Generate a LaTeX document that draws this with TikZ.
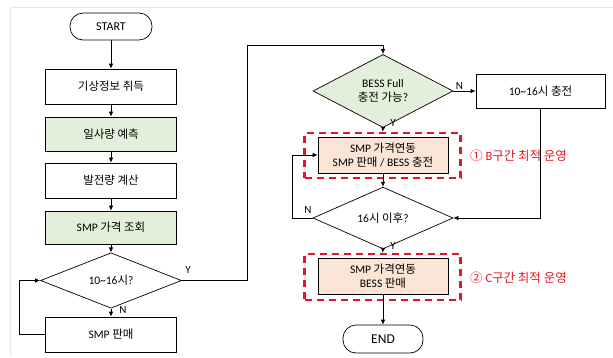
\documentclass[tikz,border=0pt]{standalone}
\usepackage{fontspec}
\setmainfont{Carlito}
\newfontfamily\kr{Noto Sans CJK KR}
\usetikzlibrary{shapes.geometric,arrows.meta}
\definecolor{boxgreen}{RGB}{226,239,218}
\definecolor{boxpeach}{RGB}{251,229,214}
\definecolor{dashred}{RGB}{230,20,30}
\definecolor{framegray}{RGB}{232,232,232}
\tikzset{
  txt/.style={font=\fontsize{11.5}{14}\selectfont},
  pbox/.style={draw, line width=0.7pt, minimum width=131pt, minimum height=35pt, inner sep=0pt, align=center, txt},
  gbox/.style={pbox, fill=boxgreen},
  obox/.style={pbox, fill=boxpeach, minimum width=130pt, minimum height=36pt},
  term/.style={draw, line width=0.7pt, rounded corners=13pt, inner sep=0pt, align=center},
  dec/.style={draw, diamond, line width=0.7pt, minimum width=140pt, minimum height=47pt, inner sep=0pt, align=center, txt},
  zone/.style={draw=dashred, line width=2.4pt, dash pattern=on 7pt off 5pt, minimum width=156pt, minimum height=45pt, inner sep=0pt},
  conn/.style={line width=0.7pt, -{Latex[length=5pt,width=4.5pt]}},
  plain/.style={line width=0.7pt},
  lbl/.style={font=\fontsize{11}{12}\selectfont, inner sep=0pt},
  redlbl/.style={font=\fontsize{12.5}{14}\selectfont, text=dashred, inner sep=0pt, anchor=west}
}
\begin{document}
\begin{tikzpicture}[x=1pt, y=-1pt]
\useasboundingbox (0,0) rectangle (613,357);
\draw[framegray, line width=0.8pt] (10,357) -- (10,7) -- (613,7);

% left column
\node[term, minimum width=82pt, minimum height=27pt, font=\fontsize{12}{14}\selectfont] (start) at (111,26.5) {START};
\node[pbox] (b1) at (111,86.5) {\kr 기상정보 취득};
\node[gbox, minimum height=34pt] (b2) at (111,134) {\kr 일사량 예측};
\node[pbox] (b3) at (111,180.5) {\kr 발전량 계산};
\node[gbox, minimum height=33pt] (b4) at (111,227.5) {SMP {\kr 가격 조회}};
\node[dec, minimum width=141pt] (d1) at (111,280.5) {10\textasciitilde16{\kr 시}?};
\node[pbox] (b5) at (111,334.5) {SMP {\kr 판매}};

\coordinate (l1) at (19,334.5);
\coordinate (l2) at (19,280.5);
\coordinate (u1) at (247,280.5);
\coordinate (u2) at (247,45);
\coordinate (u3) at (383,45);

% right column
\node[dec, fill=boxgreen, minimum height=48pt] (d2) at (383,91) {BESS Full\\{\kr 충전 가능}?};
\node[pbox, minimum width=129pt, minimum height=34pt] (c1) at (540.5,91) {10\textasciitilde16{\kr 시 충전}};
\node[zone] (z1) at (382.5,155.5) {};
\node[obox] (p1) at (383,155) {SMP {\kr 가격연동}\\SMP {\kr 판매} / BESS {\kr 충전}};
\node[redlbl] (t1) at (470,155.5) {{\kr ①} B{\kr 구간 최적 운영}};
\node[dec, minimum height=48pt] (d3) at (383,218) {16{\kr 시 이후}?};
\node[zone, minimum height=46pt] (z2) at (382.5,277) {};
\node[obox] (p2) at (383,276) {SMP {\kr 가격연동}\\BESS {\kr 판매}};
\node[redlbl] (t2) at (470,277.5) {{\kr ②} C{\kr 구간 최적 운영}};
\node[term, minimum width=80pt, minimum height=28pt, font=\fontsize{13.5}{15}\selectfont] (end) at (383,339) {END};

\coordinate (r1) at (540.5,218);
\coordinate (n1) at (292,218);
\coordinate (n2) at (292,155);

% connectors left
\draw[conn] (start) -- (b1);
\draw[conn] (b1) -- (b2);
\draw[conn] (b2) -- (b3);
\draw[conn] (b3) -- (b4);
\draw[conn] (b4) -- (d1);
\draw[conn] (d1) -- (b5);
\draw[conn] (b5.west) -- (l1) -- (l2) -- (d1.west);
\draw[conn] (d1.east) -- (u1) -- (u2) -- (u3) -- (d2.north);

% connectors right
\draw[conn] (d2.east) -- (c1.west);
\draw[conn] (d2.south) -- (z1.north);
\draw[conn] (p1.south) -- (d3.north);
\draw[conn] (c1.south) -- (r1) -- (d3.east);
\draw[conn] (d3.west) -- (n1) -- (n2) -- (p1.west);
\draw[conn] (d3.south) -- (z2.north);
\draw[conn] (p2.south) -- (end.north);

% branch labels
\node[lbl] (y1) at (188,270) {Y};
\node[lbl] (nn1) at (123,309.5) {N};
\node[lbl] (nn2) at (459.5,86) {N};
\node[lbl] (y2) at (393,123) {Y};
\node[lbl] (nn3) at (308,210) {N};
\node[lbl] (y3) at (393,246) {Y};
\end{tikzpicture}
\end{document}
